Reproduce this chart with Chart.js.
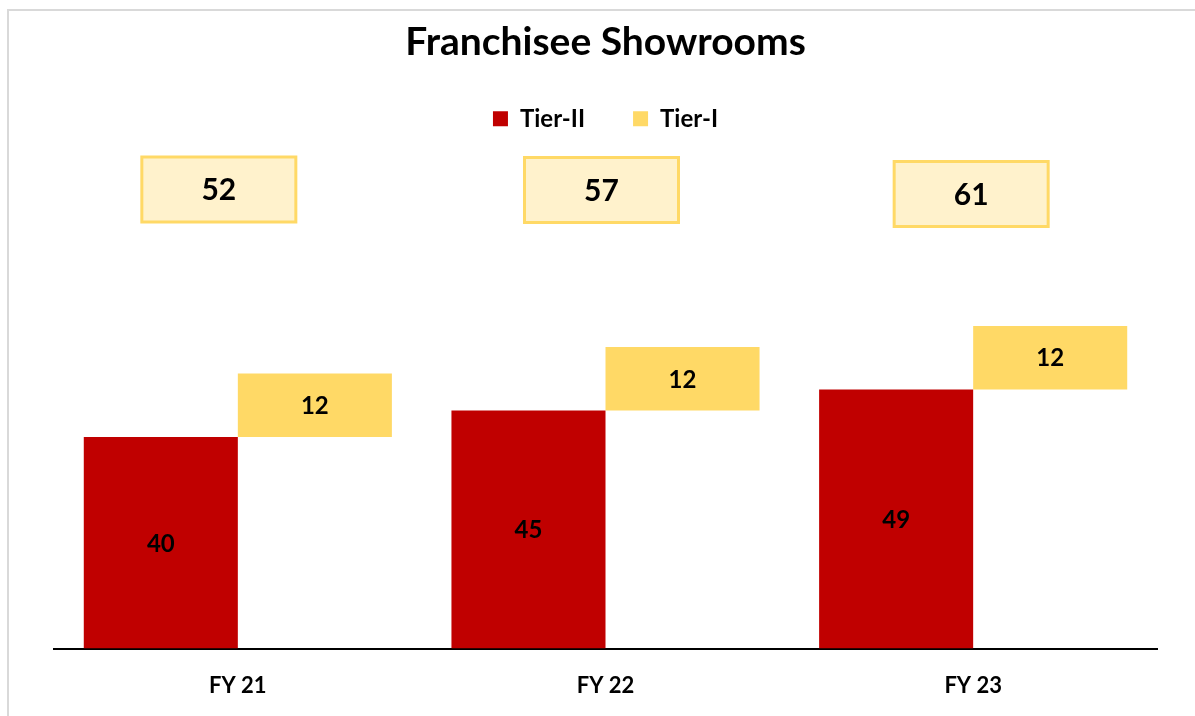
<!DOCTYPE html>
<html>
<head>
<meta charset="utf-8">
<script src="https://cdn.jsdelivr.net/npm/chart.js@4.4.1/dist/chart.umd.min.js"></script>
<style>
  html, body { margin: 0; padding: 0; background: #fff; overflow: hidden; }
  #wrap { position: relative; width: 1195px; height: 716px; overflow: hidden; background: #fff; }
  #frame { position: absolute; left: 7px; top: 9px; width: 1400px; height: 900px; border: 2px solid #d9d9d9; box-sizing: border-box; }
  #c { position: absolute; left: 0; top: 0; }
</style>
</head>
<body>
<div id="wrap">
  <div id="frame"></div>
  <canvas id="c" width="1195" height="716"></canvas>
</div>
<script>
const categories = ['FY 21', 'FY 22', 'FY 23'];
const tier2 = [40, 45, 49];
const tier1 = [12, 12, 12];
const totals = tier2.map((v, i) => v + tier1[i]);

const RED = '#c00000';
const YELLOW = '#ffd966';
const FONT = 'Lato, "Open Sans", sans-serif';

const labelsPlugin = {
  id: 'valueLabels',
  afterDatasetsDraw(chart, args, opts) {
    const ctx = chart.ctx;
    ctx.save();
    ctx.textAlign = 'center';
    ctx.textBaseline = 'middle';
    ctx.fillStyle = '#000';
    ctx.font = 'bold 24px ' + FONT;
    const values = [tier2, tier1];
    chart.data.datasets.forEach((ds, di) => {
      const meta = chart.getDatasetMeta(di);
      meta.data.forEach((el, i) => {
        const y = (el.y + el.base) / 2;
        ctx.fillText(String(values[di][i]), el.x, y + 1);
      });
    });
    // total boxes
    const xs = chart.scales.x;
    totals.forEach((t, i) => {
      const cx = xs.getPixelForValue(i) + opts.dx[i];
      const cy = opts.cy[i];
      const w = 154, h = 65;
      ctx.fillStyle = '#fff2cc';
      ctx.fillRect(cx - w / 2, cy - h / 2, w, h);
      ctx.strokeStyle = YELLOW;
      ctx.lineWidth = 3;
      ctx.strokeRect(cx - w / 2, cy - h / 2, w, h);
      ctx.fillStyle = '#000';
      ctx.font = 'bold 30px ' + FONT;
      ctx.fillText(String(t), cx, cy + 1);
    });
    ctx.restore();
  }
};

new Chart(document.getElementById('c'), {
  type: 'bar',
  data: {
    labels: categories,
    datasets: [
      { label: 'Tier-II', data: tier2, backgroundColor: RED, borderWidth: 0 },
      { label: 'Tier-I', data: tier2.map((v, i) => [v, v + tier1[i]]), backgroundColor: YELLOW, borderWidth: 0 }
    ]
  },
  options: {
    responsive: false,
    animation: false,
    layout: { padding: { left: 54, right: 38, top: 10, bottom: -7 } },
    datasets: { bar: { categoryPercentage: 0.838, barPercentage: 1.0 } },
    plugins: {
      title: {
        display: true,
        text: 'Franchisee Showrooms',
        color: '#000',
        font: { family: FONT, size: 39, weight: 'bold', lineHeight: 1.2 },
        padding: { top: 9, bottom: -7 }
      },
      legend: {
        display: true,
        position: 'top',
        labels: {
          color: '#000',
          font: { family: FONT, size: 24, weight: 'bold' },
          boxWidth: 15,
          boxHeight: 15,
          padding: 48
        }
      },
      tooltip: { enabled: false },
      valueLabels: { dx: [-19, -4, -2], cy: [189.5, 190, 194] }
    },
    scales: {
      x: {
        grid: { display: false, drawTicks: false },
        border: { display: true, color: '#000', width: 2 },
        ticks: { color: '#000', font: { family: FONT, size: 22, weight: 'bold' }, padding: 24 }
      },
      y: {
        display: false,
        min: 0,
        max: 96,
        grid: { display: false }
      }
    }
  },
  plugins: [labelsPlugin]
});
</script>
</body>
</html>
